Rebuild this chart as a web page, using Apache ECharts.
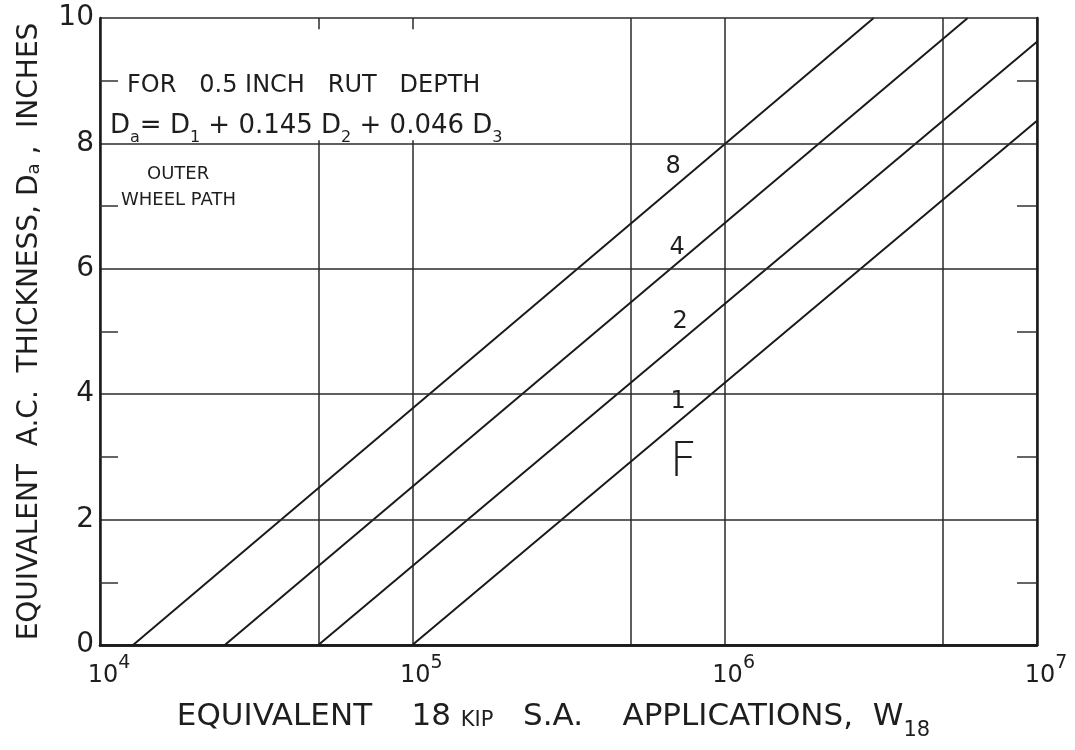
<!DOCTYPE html>
<html>
<head>
<meta charset="utf-8">
<script src="https://cdn.jsdelivr.net/npm/echarts@6/dist/echarts.min.js"></script>
<style>html,body{margin:0;padding:0;background:#fff}#c{width:1075px;height:750px}</style>
</head>
<body>
<div id="c"></div>
<script>
// ---- data ----
const xMin = 1e4, xMax = 1e7;
const yTicks = [0, 2, 4, 6, 8, 10];
const extraGridX = [5e4, 5e5, 5e6];           // the 5 x 10^n grid lines
const textBox = [[1e4, 8.05], [3e5, 9.82]];   // blank area behind the annotation
const curveNames = ['8', '4', '2', '1'];
const curve8 = [[1.276e4, 0], [3.0e6, 10]];
const curve4 = [[2.51e4, 0], [6.0e6, 10]];
const curve2 = [[5e4, 0], [1e7, 9.62]];
const curve1 = [[1e5, 0], [1e7, 8.36]];
const curveLabelText = ['8', '4', '2', '1', 'F'];
const curveLabelX = [6.84e5, 7.05e5, 7.2e5, 7.1e5, 7.37e5];
const curveLabelY = [7.62, 6.33, 5.15, 3.88, 2.90];

const FONT = 'DejaVu Sans';
const INK = '#1a1a1a';
const TXT = '#1e1e1e';
const chart = echarts.init(document.getElementById('c'));

const curves = [curve8, curve4, curve2, curve1];
const lineSeries = curves.map((d, i) => ({
  name: curveNames[i], type: 'line', data: d, symbol: 'none', silent: true, z: 3,
  lineStyle: {color: INK, width: 2}
}));

const labelData = curveLabelText.map((t, i) => ({
  value: [curveLabelX[i], curveLabelY[i]],
  label: {formatter: t, fontSize: t === 'F' ? 48 : 24, fontWeight: t === 'F' ? 200 : 'normal'}
}));

const option = {
  backgroundColor: '#fff',
  animation: false,
  grid: {left: 100, right: 38, top: 18, bottom: 105},
  xAxis: [{
    type: 'log', logBase: 10, min: xMin, max: xMax,
    axisLine: {show: true, lineStyle: {color: INK, width: 2.5}},
    axisTick: {show: false},
    splitLine: {show: true, lineStyle: {color: '#2a2a2a', width: 1.5}},
    axisLabel: {
      margin: 9, padding: [0, 0, 0, 18], color: TXT,
      formatter: v => '{b|10}{s|' + Math.round(Math.log10(v)) + '}',
      rich: {
        b: {fontSize: 24, fontFamily: FONT, color: TXT, lineHeight: 34, verticalAlign: 'bottom'},
        s: {fontSize: 19, fontFamily: FONT, color: TXT, lineHeight: 20, verticalAlign: 'top'}
      }
    },
    name: 'EQUIVALENT    18 {k|KIP}   S.A.    APPLICATIONS,  W{sub|18}',
    nameLocation: 'middle', nameGap: 54,
    nameTextStyle: {
      fontSize: 31, fontFamily: FONT, color: TXT, padding: [0, 30, 0, 0],
      rich: {
        k: {fontSize: 21, fontFamily: FONT, color: TXT, lineHeight: 36, verticalAlign: 'bottom', padding: [0, 0, 4, 0]},
        sub: {fontSize: 21, fontFamily: FONT, color: TXT, lineHeight: 20, verticalAlign: 'bottom', padding: [0, 0, -6, 0]}
      }
    }
  }, {
    type: 'log', logBase: 10, min: xMin, max: xMax, position: 'top', z: 4,
    axisLine: {show: true, lineStyle: {color: INK, width: 2.5}},
    axisTick: {show: false}, axisLabel: {show: false}, splitLine: {show: false}
  }],
  yAxis: [{
    type: 'value', min: 0, max: 10, interval: 2, z: 4,
    axisLine: {show: true, lineStyle: {color: INK, width: 2.5}},
    axisTick: {show: false, inside: true},
    minorTick: {show: true, splitNumber: 2, length: 18, lineStyle: {color: '#333', width: 1.5}},
    splitLine: {show: true, lineStyle: {color: '#2a2a2a', width: 1.5}},
    axisLabel: {margin: 6, fontSize: 28, fontFamily: FONT, color: TXT},
    name: 'EQUIVALENT  A.C.  THICKNESS, D{sub|a} ,  INCHES',
    nameLocation: 'middle', nameGap: 56,
    nameTextStyle: {
      fontSize: 28, fontFamily: FONT, color: TXT,
      rich: {sub: {fontSize: 18, fontFamily: FONT, color: TXT, padding: [0, 0, -8, 0]}}
    }
  }, {
    type: 'value', min: 0, max: 10, interval: 2, position: 'right', z: 4,
    axisLine: {show: true, lineStyle: {color: INK, width: 2.5}},
    axisTick: {show: false, inside: true},
    minorTick: {show: true, splitNumber: 2, length: 20, lineStyle: {color: '#333', width: 1.5}},
    splitLine: {show: false}, axisLabel: {show: false}
  }],
  series: [
    {
      type: 'line', data: [], silent: true,
      markLine: {
        silent: true, symbol: 'none', z: 0.5, label: {show: false},
        lineStyle: {color: '#2a2a2a', width: 1.5, type: 'solid'},
        data: extraGridX.map(x => ({xAxis: x}))
      },
      markArea: {
        silent: true, z: 1,
        itemStyle: {color: '#ffffff', opacity: 1},
        data: [[{coord: textBox[0]}, {coord: textBox[1]}]]
      }
    },
    ...lineSeries,
    {
      type: 'scatter', data: labelData, symbolSize: 0, silent: true, z: 5,
      itemStyle: {opacity: 1},
      label: {show: true, position: 'inside', color: TXT, fontFamily: FONT, opacity: 1}
    }
  ],
  graphic: [
    {type: 'text', x: 127, y: 86, z: 100, style: {text: 'FOR   0.5 INCH   RUT   DEPTH', font: '24px "DejaVu Sans"', fill: TXT, verticalAlign: 'middle'}},
    {type: 'text', x: 110, y: 126, z: 100, style: {
      text: '{m|D}{s|a}{m|= D}{s|1}{m| + 0.145 D}{s|2}{m| + 0.046 D}{s|3}', verticalAlign: 'middle',
      rich: {
        m: {fontSize: 26, fontFamily: FONT, fill: TXT, lineHeight: 40},
        s: {fontSize: 16, fontFamily: FONT, fill: TXT, lineHeight: 18, verticalAlign: 'bottom'}
      }
    }},
    {type: 'text', x: 147, y: 174, z: 100, style: {text: 'OUTER', font: '18px "DejaVu Sans"', fill: TXT, verticalAlign: 'middle'}},
    {type: 'text', x: 121, y: 200, z: 100, style: {text: 'WHEEL PATH', font: '18px "DejaVu Sans"', fill: TXT, verticalAlign: 'middle'}}
  ]
};
chart.setOption(option);
</script>
</body>
</html>
